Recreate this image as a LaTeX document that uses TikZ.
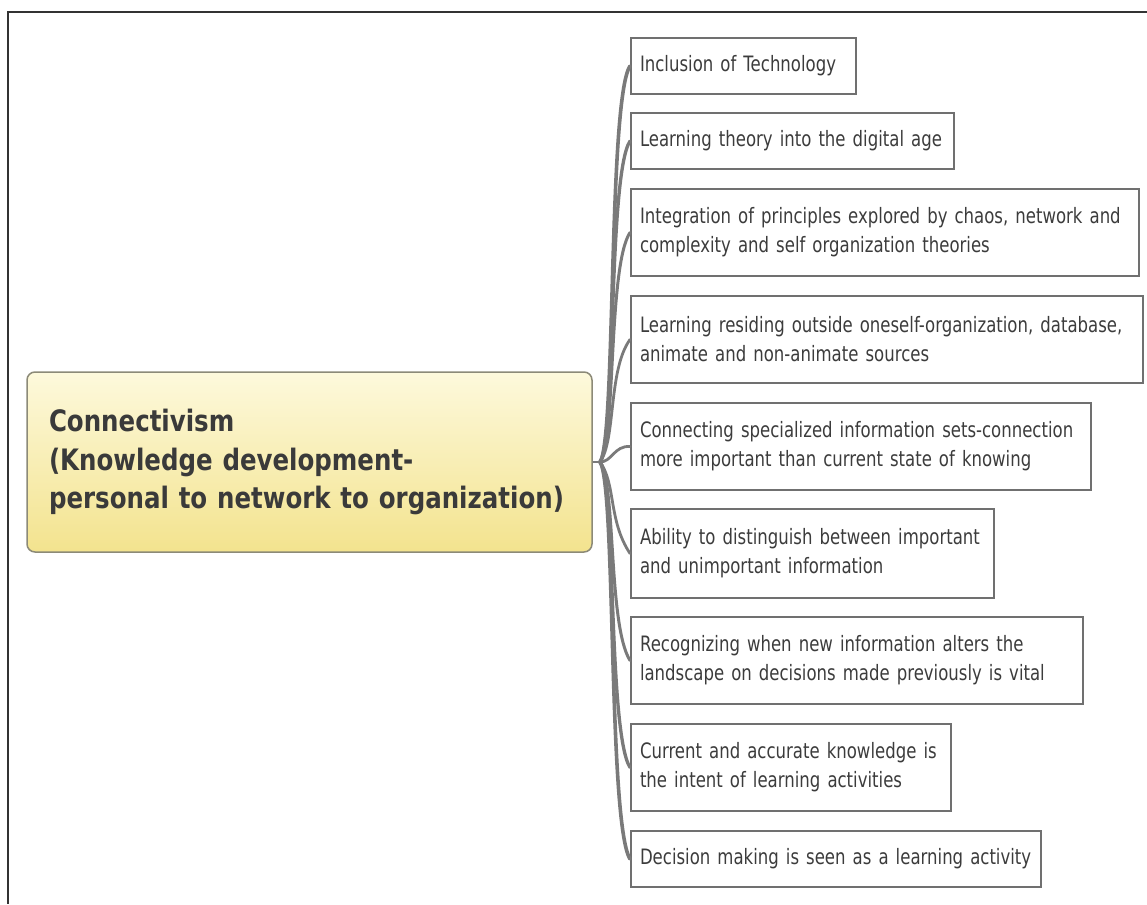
\documentclass[tikz,border=0pt]{standalone}
\usepackage{fontspec}
\setmainfont{DejaVu Sans}[FakeStretch=0.83]
\newfontfamily\leaffont{DejaVu Sans}[FakeStretch=0.78]
\definecolor{framec}{HTML}{333333}
\definecolor{boxline}{HTML}{707070}
\definecolor{boxtext}{HTML}{3C3C3C}
\definecolor{branchc}{HTML}{7A7A7A}
\definecolor{ytop}{HTML}{FDF9DC}
\definecolor{ybot}{HTML}{F3E38E}
\definecolor{ctext}{HTML}{3A3A3A}
\definecolor{cline}{HTML}{8C8A78}
\newcommand{\leafline}[1]{\mbox{#1}}
\tikzset{
  leaf/.style={draw=boxline, line width=2pt, rectangle, anchor=north west,
    inner xsep=9pt, inner ysep=0pt, align=left, text=boxtext,
    font=\leaffont\fontsize{21.2}{29}\selectfont},
  centerbox/.style={draw=cline, line width=1.5pt, rounded corners=8pt,
    top color=ytop, bottom color=ybot, minimum width=565pt, minimum height=180pt,
    inner xsep=22pt, text width=521pt, align=left, text=ctext,
    font=\fontsize{29.5}{38.5}\selectfont\bfseries},
  branch/.style={draw=branchc, line width=2.8pt, line cap=round},
  framerule/.style={draw=framec, line width=1.5pt}
}
\begin{document}
\begin{tikzpicture}[x=1pt,y=-1pt]
\useasboundingbox (0,0) rectangle (1147,904);
\coordinate (ftl) at (8,12);
\coordinate (ftr) at (1147,12);
\coordinate (fbl) at (8,904);
\draw[framerule] (ftr) -- (ftl) -- (fbl);

\node[centerbox] (c) at (309.5,462) {Connectivism\\(Knowledge development-\\personal to network to organization)};

\node[leaf, minimum width=225pt, minimum height=56pt, text width=207pt] (b1) at (630,37) {\leafline{Inclusion of Technology}};
\node[leaf, minimum width=323pt, minimum height=56pt, text width=305pt] (b2) at (630,112) {\leafline{Learning theory into the digital age}};
\node[leaf, minimum width=508pt, minimum height=87pt, text width=490pt] (b3) at (630,188) {\leafline{Integration of principles explored by chaos, network and}\\\leafline{complexity and self organization theories}};
\node[leaf, minimum width=512pt, minimum height=87pt, text width=494pt] (b4) at (630,295) {\leafline{Learning residing outside oneself-organization, database,}\\\leafline{animate and non-animate sources}};
\node[leaf, minimum width=460pt, minimum height=87pt, text width=442pt] (b5) at (630,402) {\leafline{Connecting specialized information sets-connection}\\\leafline{more important than current state of knowing}};
\node[leaf, minimum width=363pt, minimum height=89pt, text width=345pt] (b6) at (630,508) {\leafline{Ability to distinguish between important}\\\leafline{and unimportant information}};
\node[leaf, minimum width=452pt, minimum height=87pt, text width=434pt] (b7) at (630,616) {\leafline{Recognizing when new information alters the}\\\leafline{landscape on decisions made previously is vital}};
\node[leaf, minimum width=320pt, minimum height=87pt, text width=302pt] (b8) at (630,723) {\leafline{Current and accurate knowledge is}\\\leafline{the intent of learning activities}};
\node[leaf, minimum width=410pt, minimum height=56pt, text width=392pt] (b9) at (630,830) {\leafline{Decision making is seen as a learning activity}};

\coordinate (root) at (600,462);
\draw[branchc, line width=2pt] (c.east) -- (root);

\draw[branch, line width=3.6pt] (root) .. controls (616,440) and (608,100) .. (b1.west);
\draw[branch, line width=3.3pt] (root) .. controls (616,440) and (608,175) .. (b2.west);
\draw[branch, line width=3pt] (root) .. controls (616,440) and (608,266) .. (b3.west);
\draw[branch] (root) .. controls (616,440) and (608,370) .. (b4.west);
\draw[branch] (root) .. controls (612,462) and (614,445.5) .. (b5.west);
\draw[branch] (root) .. controls (616,484) and (608,520) .. (b6.west);
\draw[branch, line width=3pt] (root) .. controls (616,484) and (608,625) .. (b7.west);
\draw[branch, line width=3.3pt] (root) .. controls (616,484) and (608,732) .. (b8.west);
\draw[branch, line width=3.6pt] (root) .. controls (616,484) and (608,823) .. (b9.west);
\end{tikzpicture}
\end{document}
